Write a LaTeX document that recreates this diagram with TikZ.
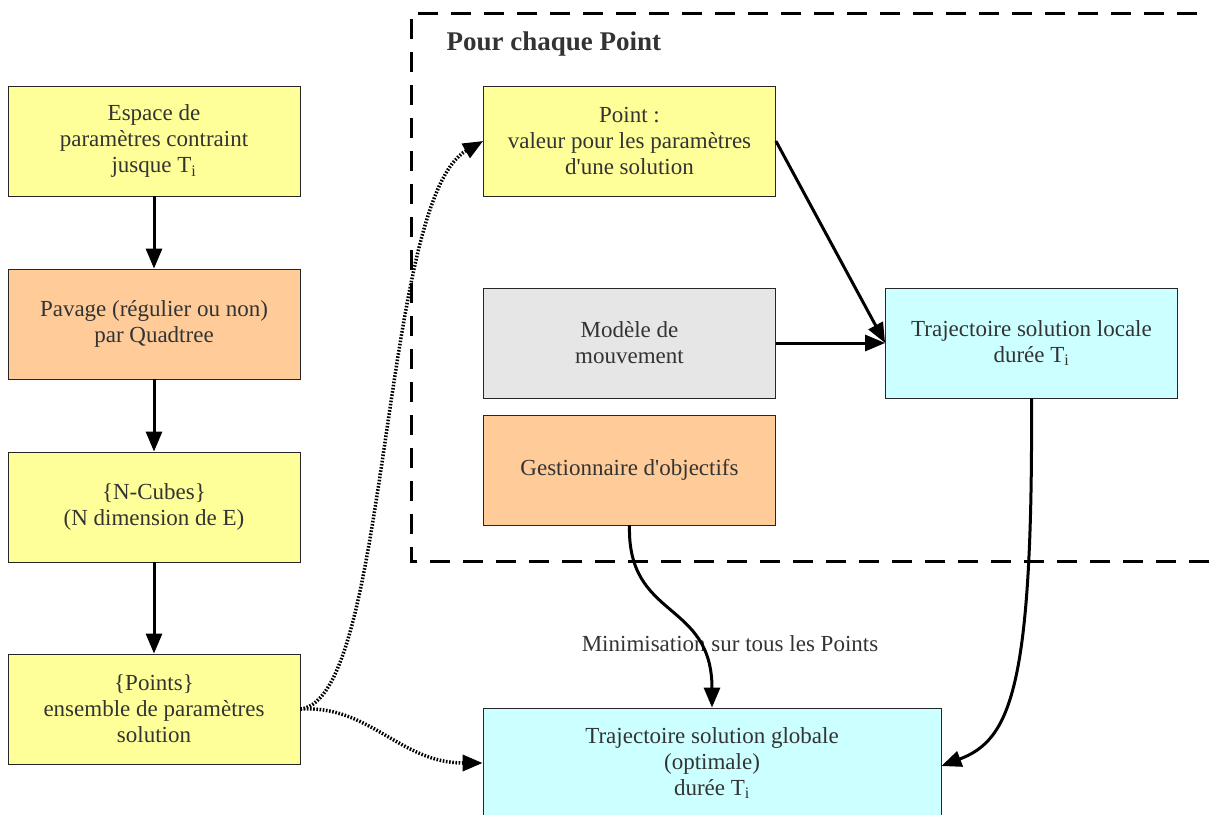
\documentclass[tikz,border=0pt]{standalone}
\usepackage{fontspec}
\setmainfont{Liberation Serif}
\usetikzlibrary{arrows.meta}
\definecolor{txt}{HTML}{333333}
\definecolor{cyel}{HTML}{FFFF99}
\definecolor{corg}{HTML}{FFCC99}
\definecolor{cgry}{HTML}{E6E6E6}
\definecolor{ccyn}{HTML}{CCFFFF}
\tikzset{
  box/.style={draw=black!85, line width=0.8pt, minimum width=292pt, minimum height=110pt,
    align=center, text=txt, font=\fontsize{23}{26}\selectfont, inner sep=2pt},
  yel/.style={box, fill=cyel},
  org/.style={box, fill=corg},
  gry/.style={box, fill=cgry},
  cyn/.style={box, fill=ccyn},
  arr/.style={line width=3pt, -{Triangle[length=20pt,width=16pt]}},
  dots/.style={line width=3.5pt, dash pattern=on 1.6pt off 1.6pt, -{Triangle[length=20pt,width=16pt]}},
}
\begin{document}
\begin{tikzpicture}[x=1pt,y=-1pt]
\useasboundingbox (0,0) rectangle (1210,814);
\clip (0,0) rectangle (1210,814);
% dashed frame
\draw[line width=3pt, dash pattern=on 20pt off 13pt] (1230,13) -- (411,13) -- (411,561) -- (1230,561);
\node[anchor=west, text=txt, font=\fontsize{27}{30}\selectfont\bfseries] (title) at (443,44) {Pour chaque Point};
% left column
\node[yel] (esp) at (154,141) {Espace de\\paramètres contraint\\jusque T\textsubscript{i}};
\node[org] (pav) at (154,324) {Pavage (régulier ou non)\\par Quadtree};
\node[yel] (cub) at (154,507) {\{N-Cubes\}\\(N dimension de E)};
\node[yel] (pts) at (154,709) {\{Points\}\\ensemble de paramètres\\solution};
% right part
\node[yel] (pt) at (629.5,141) {Point :\\valeur pour les paramètres\\d\textquotesingle une solution};
\node[gry] (mod) at (629.5,343) {Modèle de\\mouvement};
\node[org] (ges) at (629.5,470) {Gestionnaire d\textquotesingle objectifs};
\node[cyn] (loc) at (1031.5,343) {Trajectoire solution locale\\durée T\textsubscript{i}};
\node[cyn, minimum width=458pt] (glob) at (712,763) {Trajectoire solution globale\\(optimale)\\durée T\textsubscript{i}};
\node[text=txt, font=\fontsize{23}{26}\selectfont] (minl) at (730,644) {Minimisation sur tous les Points};
% arrows
\draw[arr] (esp) -- (pav);
\draw[arr] (pav) -- (cub);
\draw[arr] (cub) -- (pts);
\draw[arr] (pt.east) -- (loc.west);
\draw[arr] (mod.east) -- (loc.west);
\draw[arr] (loc.south) .. controls (1033,690) and (1010,740) .. ([yshift=-3pt]glob.east);
\draw[arr] (ges.south) .. controls (627,620) and (712,600) .. (glob.north);
\draw[dots] (pts.east) .. controls (390,700) and (380,200) .. (pt.west);
\draw[dots] (pts.east) .. controls (370,705) and (400,763) .. (glob.west);
\end{tikzpicture}
\end{document}
